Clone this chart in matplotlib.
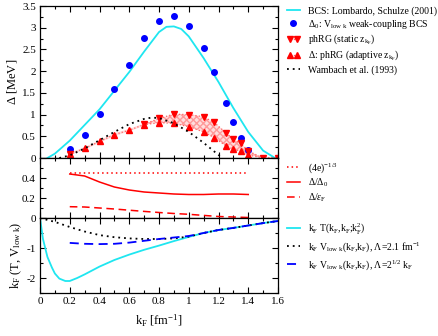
import numpy as np
import matplotlib
matplotlib.use("Agg")
import matplotlib.pyplot as plt
from matplotlib.ticker import MultipleLocator
from matplotlib.legend_handler import HandlerLine2D

plt.rcParams['font.family'] = ['Liberation Serif', 'DejaVu Serif']
plt.rcParams['mathtext.fontset'] = 'custom'
plt.rcParams['mathtext.rm'] = 'Liberation Serif'
plt.rcParams['mathtext.it'] = 'Liberation Serif:italic'
plt.rcParams['font.size'] = 8

# ---------------- data ----------------
# top panel
kf_bcs = [0.05, 0.1, 0.2, 0.3, 0.4, 0.5, 0.6, 0.7, 0.8, 0.85, 0.9, 0.95, 1.0, 1.1, 1.2, 1.3, 1.4, 1.5, 1.58]
gap_bcs = [0.0, 0.1, 0.4, 0.76, 1.12, 1.55, 1.98, 2.45, 2.9, 3.02, 3.03, 2.97, 2.8, 2.3, 1.75, 1.15, 0.6, 0.17, 0.0]

kf_d0 = [0.2, 0.3, 0.4, 0.5, 0.6, 0.7, 0.8, 0.9, 1.0, 1.1, 1.17, 1.25, 1.3, 1.35, 1.4]
gap_d0 = [0.21, 0.53, 1.01, 1.58, 2.13, 2.76, 3.16, 3.28, 3.04, 2.53, 1.97, 1.26, 0.82, 0.45, 0.18]

kf_ph = [0.2, 0.3, 0.4, 0.5, 0.6, 0.7, 0.8, 0.9, 1.0, 1.1, 1.17, 1.25, 1.3, 1.35, 1.4, 1.5, 1.6]
gap_static = [0.09, np.nan, np.nan, np.nan, np.nan, 0.78, 0.91, 1.01, 1.0, 0.95, 0.82, 0.58, 0.43, 0.34, 0.16, 0.0, 0.0]
gap_adapt = [0.09, 0.22, 0.38, 0.54, 0.64, 0.77, 0.81, 0.80, 0.72, 0.60, 0.47, 0.28, 0.20, 0.15, 0.07, 0.0, 0.0]

kf_wam = [0.13, 0.2, 0.3, 0.4, 0.5, 0.6, 0.7, 0.75, 0.8, 0.9, 1.0, 1.1, 1.2, 1.23]
gap_wam = [0.0, 0.06, 0.22, 0.41, 0.6, 0.78, 0.9, 0.93, 0.92, 0.8, 0.6, 0.35, 0.07, 0.0]

# middle panel
kf_mid = [0.2, 0.3, 0.4, 0.5, 0.6, 0.7, 0.8, 0.9, 1.0, 1.1, 1.2, 1.3, 1.4]
ratio_4e = [(4 * np.e) ** (-1 / 3)] * len(kf_mid)
ratio_d0 = [0.44, 0.42, 0.36, 0.31, 0.28, 0.26, 0.25, 0.24, 0.235, 0.235, 0.24, 0.24, 0.235]
ratio_ef = [0.113, 0.11, 0.10, 0.09, 0.078, 0.066, 0.055, 0.045, 0.037, 0.026, 0.015, 0.01, 0.005]

# bottom panel
kf_T = [0.0, 0.02, 0.05, 0.08, 0.1, 0.13, 0.17, 0.2, 0.25, 0.3, 0.4, 0.5, 0.6, 0.7, 0.8, 0.9, 1.0, 1.1, 1.2, 1.3, 1.4, 1.5, 1.6]
val_T = [0.0, -0.7, -1.3, -1.65, -1.85, -2.02, -2.1, -2.1, -2.0, -1.88, -1.62, -1.4, -1.22, -1.06, -0.92, -0.77, -0.63, -0.5, -0.4, -0.33, -0.25, -0.17, -0.1]
kf_V21 = [0.0, 0.1, 0.2, 0.3, 0.4, 0.5, 0.6, 0.7, 0.8, 0.9, 1.0, 1.1, 1.2, 1.3, 1.4, 1.5, 1.6]
val_V21 = [0.0, -0.13, -0.3, -0.45, -0.57, -0.64, -0.68, -0.7, -0.7, -0.68, -0.62, -0.5, -0.4, -0.33, -0.25, -0.17, -0.1]
kf_Vs = [0.2, 0.3, 0.4, 0.5, 0.6, 0.7, 0.8, 0.9, 1.0, 1.1, 1.2, 1.3, 1.4, 1.5, 1.6]
val_Vs = [-0.83, -0.86, -0.87, -0.86, -0.82, -0.76, -0.7, -0.65, -0.6, -0.5, -0.4, -0.33, -0.25, -0.17, -0.1]

# ---------------- figure ----------------
W, H = 438, 336
fig = plt.figure(figsize=(W / 100, H / 100), dpi=100)

def box(top, bottom, left=40, right=278):
    return [left / W, 1 - bottom / H, (right - left) / W, (bottom - top) / H]

ax1 = fig.add_axes(box(6, 158))
ax2 = fig.add_axes(box(158, 218))
ax3 = fig.add_axes(box(218, 293))

CYAN = '#1fe6f0'
RED = '#ff0000'
BLUE = '#0000ff'

# top
ax1.plot(kf_bcs, gap_bcs, color=CYAN, lw=1.3, label='BCS: Lombardo, Schulze (2001)')
ax1.plot(kf_d0, gap_d0, 'o', color=BLUE, ms=4, label=r'$\Delta_0$: V$_\mathrm{low\ k}$ weak-coupling BCS')
ks = np.array(kf_ph)
gs = np.array(gap_static)
ga = np.array(gap_adapt)
m = ~np.isnan(gs)
ax1.fill_between(ks[m], ga[m], gs[m], facecolor='#ffdede', edgecolor='#ff9a9a', hatch='xxxxx', lw=0)
ax1.fill_between(ks[:6], ga[:6] - 0.03, ga[:6] + 0.03, facecolor='#ffdede', edgecolor='none', lw=0)
l_st, = ax1.plot(kf_ph, gap_static, linestyle=':', color='#ff6060', lw=0.9, marker='v', ms=4, mfc=RED, mec=RED,
                 label=r'phRG (static z$_{\mathrm{k_F}}$)')
l_ad, = ax1.plot(kf_ph, gap_adapt, linestyle=':', color='#ff6060', lw=0.9, marker='^', ms=4, mfc=RED, mec=RED,
                 label=r'$\Delta$: phRG (adaptive z$_{\mathrm{k_F}}$)')
ax1.plot(kf_wam, gap_wam, color='black', lw=1.3, linestyle=(0, (1, 2.2)), label='Wambach et al. (1993)')
ax1.set_ylim(0, 3.5)
ax1.set_yticks([0, 0.5, 1, 1.5, 2, 2.5, 3, 3.5])
ax1.set_yticklabels(['0', '0.5', '1', '1.5', '2', '2.5', '3', '3.5'])
ax1.yaxis.set_minor_locator(MultipleLocator(0.25))
ax1.set_ylabel(r'$\Delta$ [MeV]', fontsize=9, labelpad=2)

# middle
ax2.plot(kf_mid, ratio_4e, color=RED, lw=1.1, linestyle=(0, (1, 2)), label=r'(4e)$^{-1/3}$')
ax2.plot(kf_mid, ratio_d0, color=RED, lw=1.1, label=r'$\Delta/\Delta_0$')
ax2.plot(kf_mid, ratio_ef, color=RED, lw=1.1, linestyle=(0, (5, 3)), label=r'$\Delta/\epsilon_\mathrm{F}$')
ax2.set_ylim(0, 0.6)
ax2.set_yticks([0, 0.2, 0.4, 0.6])
ax2.set_yticklabels(['0', '0.2', '0.4', ''])
ax2.yaxis.set_minor_locator(MultipleLocator(0.1))

# bottom
ax3.plot(kf_T, val_T, color=CYAN, lw=1.3, label=r'k$_\mathrm{F}$ T(k$_\mathrm{F}$,k$_\mathrm{F}$;k$_\mathrm{F}^2$)')
ax3.plot(kf_V21, val_V21, color='black', lw=1.3, linestyle=(0, (1, 2.2)),
         label=r'k$_\mathrm{F}$ V$_\mathrm{low\ k}$(k$_\mathrm{F}$,k$_\mathrm{F}$), $\Lambda$=2.1 fm$^{-1}$')
ax3.plot(kf_Vs, val_Vs, color=BLUE, lw=1.3, linestyle=(0, (5, 3)),
         label=r'k$_\mathrm{F}$ V$_\mathrm{low\ k}$(k$_\mathrm{F}$,k$_\mathrm{F}$), $\Lambda$=2$^{1/2}$ k$_\mathrm{F}$')
ax3.set_ylim(-2.5, 0)
ax3.set_yticks([-2, -1, 0])
ax3.set_yticklabels(['-2', '-1', ''])
ax3.yaxis.set_minor_locator(MultipleLocator(0.5))
ax3.set_ylabel(r'k$_\mathrm{F}$ (T, V$_\mathrm{low\ k}$)', fontsize=9, labelpad=2)
ax3.set_xlabel(r'k$_\mathrm{F}$ [fm$^{-1}$]', fontsize=9, labelpad=5)

xt = [0, 0.2, 0.4, 0.6, 0.8, 1.0, 1.2, 1.4, 1.6]
for ax in (ax1, ax2, ax3):
    ax.set_xlim(0, 1.6)
    ax.set_xticks(xt)
    ax.xaxis.set_minor_locator(MultipleLocator(0.1))
    ax.tick_params(which='both', direction='in', top=True, right=True, labelsize=8, width=0.8, pad=3)
    ax.tick_params(which='major', length=4.5)
    ax.tick_params(which='minor', length=2.5)
    for s in ax.spines.values():
        s.set_linewidth(0.9)
ax1.set_xticklabels([])
ax2.set_xticklabels([])
ax3.set_xticklabels(['0', '0.2', '0.4', '0.6', '0.8', '1', '1.2', '1.4', '1.6'])

xleg = (287 - 40) / 238
common = dict(loc='upper left', frameon=False, borderpad=0, borderaxespad=0, handlelength=1.3,
              handletextpad=0.9, fontsize=7)
ax1.legend(bbox_to_anchor=(xleg, 1.0), labelspacing=0.22, numpoints=1,
           handler_map={l_st: HandlerLine2D(numpoints=2), l_ad: HandlerLine2D(numpoints=2)}, **common)
ax2.legend(bbox_to_anchor=(xleg, 0.95), labelspacing=0.2, **common)
ax3.legend(bbox_to_anchor=(xleg, 0.96), labelspacing=0.45, **common)

fig.savefig('out.png', dpi=100)
